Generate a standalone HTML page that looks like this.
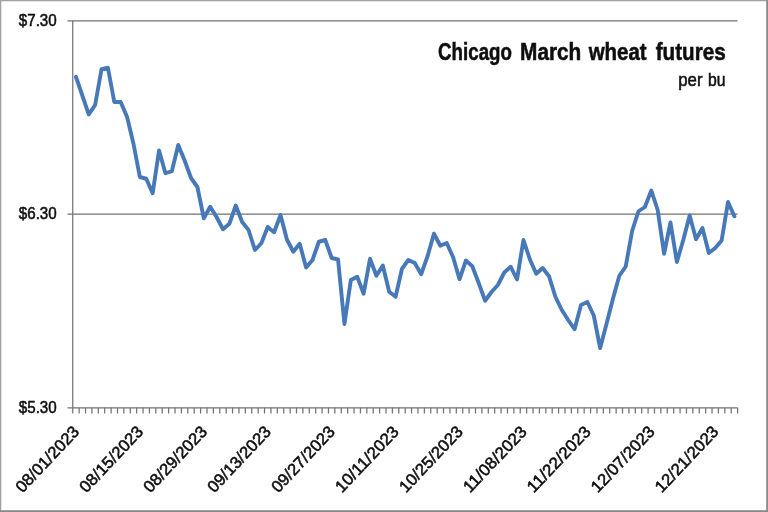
<!DOCTYPE html>
<html><head><meta charset="utf-8"><title>Chicago March wheat futures</title>
<style>
html,body{margin:0;padding:0;background:#fff;}
body{width:768px;height:512px;overflow:hidden;font-family:"Liberation Sans",sans-serif;}
svg{display:block;}
text{font-family:"Liberation Sans",sans-serif;fill:#111;stroke:#111;stroke-width:0.55px;}
</style></head><body>
<svg width="768" height="512" viewBox="0 0 768 512">
<rect x="0" y="0" width="768" height="512" fill="#fff"/>
<!-- outer border -->
<rect x="0" y="0" width="768" height="1.3" fill="#a3a3a3"/>
<rect x="0" y="0" width="1.3" height="512" fill="#a3a3a3"/>
<rect x="766.2" y="0" width="1.8" height="512" fill="#8a8a8a"/>
<rect x="0" y="510.2" width="768" height="1.8" fill="#8a8a8a"/>
<defs><filter id="b" x="-2%" y="-2%" width="104%" height="104%"><feGaussianBlur stdDeviation="0.6"/></filter></defs>
<g filter="url(#b)">
<!-- gridlines -->
<g stroke="#737373" stroke-width="1.25" fill="none">
<path d="M67.5 20.75H737.6M67.5 214.0H737.6M67.5 407.75H737.6"/>
<path d="M72.75 20.75V407.75"/>
<path d="M72.75 407.75V413.4M79.14 407.75V413.4M85.54 407.75V413.4M91.93 407.75V413.4M98.32 407.75V413.4M104.71 407.75V413.4M111.11 407.75V413.4M117.50 407.75V413.4M123.89 407.75V413.4M130.29 407.75V413.4M136.68 407.75V413.4M143.07 407.75V413.4M149.46 407.75V413.4M155.86 407.75V413.4M162.25 407.75V413.4M168.64 407.75V413.4M175.03 407.75V413.4M181.43 407.75V413.4M187.82 407.75V413.4M194.21 407.75V413.4M200.61 407.75V413.4M207.00 407.75V413.4M213.39 407.75V413.4M219.78 407.75V413.4M226.18 407.75V413.4M232.57 407.75V413.4M238.96 407.75V413.4M245.36 407.75V413.4M251.75 407.75V413.4M258.14 407.75V413.4M264.53 407.75V413.4M270.93 407.75V413.4M277.32 407.75V413.4M283.71 407.75V413.4M290.10 407.75V413.4M296.50 407.75V413.4M302.89 407.75V413.4M309.28 407.75V413.4M315.68 407.75V413.4M322.07 407.75V413.4M328.46 407.75V413.4M334.85 407.75V413.4M341.25 407.75V413.4M347.64 407.75V413.4M354.03 407.75V413.4M360.43 407.75V413.4M366.82 407.75V413.4M373.21 407.75V413.4M379.60 407.75V413.4M386.00 407.75V413.4M392.39 407.75V413.4M398.78 407.75V413.4M405.18 407.75V413.4M411.57 407.75V413.4M417.96 407.75V413.4M424.35 407.75V413.4M430.75 407.75V413.4M437.14 407.75V413.4M443.53 407.75V413.4M449.92 407.75V413.4M456.32 407.75V413.4M462.71 407.75V413.4M469.10 407.75V413.4M475.50 407.75V413.4M481.89 407.75V413.4M488.28 407.75V413.4M494.67 407.75V413.4M501.07 407.75V413.4M507.46 407.75V413.4M513.85 407.75V413.4M520.25 407.75V413.4M526.64 407.75V413.4M533.03 407.75V413.4M539.42 407.75V413.4M545.82 407.75V413.4M552.21 407.75V413.4M558.60 407.75V413.4M564.99 407.75V413.4M571.39 407.75V413.4M577.78 407.75V413.4M584.17 407.75V413.4M590.57 407.75V413.4M596.96 407.75V413.4M603.35 407.75V413.4M609.74 407.75V413.4M616.14 407.75V413.4M622.53 407.75V413.4M628.92 407.75V413.4M635.32 407.75V413.4M641.71 407.75V413.4M648.10 407.75V413.4M654.49 407.75V413.4M660.89 407.75V413.4M667.28 407.75V413.4M673.67 407.75V413.4M680.06 407.75V413.4M686.46 407.75V413.4M692.85 407.75V413.4M699.24 407.75V413.4M705.64 407.75V413.4M712.03 407.75V413.4M718.42 407.75V413.4M724.81 407.75V413.4M731.21 407.75V413.4M737.60 407.75V413.4"/>
</g>
<polyline points="75.95,76.80 82.34,95.50 88.73,114.50 95.12,105.00 101.52,69.25 107.91,67.75 114.30,102.00 120.70,102.00 127.09,117.00 133.48,143.75 139.87,177.00 146.27,178.75 152.66,193.25 159.05,150.50 165.45,173.25 171.84,171.25 178.23,145.00 184.62,160.50 191.02,178.00 197.41,187.00 203.80,218.25 210.19,206.75 216.59,217.00 222.98,229.25 229.37,223.75 235.77,205.50 242.16,222.00 248.55,230.00 254.94,250.00 261.34,243.25 267.73,226.90 274.12,232.30 280.52,215.00 286.91,239.50 293.30,251.75 299.69,243.75 306.09,267.50 312.48,260.00 318.87,241.75 325.27,240.00 331.66,258.00 338.05,259.50 344.44,324.00 350.84,280.00 357.23,276.75 363.62,293.75 370.01,258.75 376.41,275.75 382.80,265.50 389.19,291.75 395.59,296.75 401.98,268.75 408.37,260.00 414.76,263.00 421.16,274.25 427.55,256.25 433.94,233.75 440.34,245.75 446.73,243.00 453.12,257.25 459.51,279.25 465.91,260.50 472.30,266.25 478.69,283.00 485.08,300.75 491.48,292.00 497.87,285.00 504.26,272.50 510.66,266.75 517.05,279.50 523.44,240.00 529.83,259.25 536.23,273.75 542.62,268.00 549.01,276.25 555.41,296.75 561.80,310.00 568.19,320.00 574.58,329.25 580.98,305.00 587.37,302.00 593.76,315.50 600.16,348.00 606.55,323.75 612.94,298.75 619.33,275.75 625.73,266.50 632.12,231.00 638.51,211.25 644.90,207.00 651.30,190.50 657.69,210.00 664.08,253.75 670.48,222.50 676.87,262.00 683.26,240.00 689.65,215.50 696.05,239.25 702.44,228.00 708.83,253.00 715.23,248.00 721.62,240.50 728.01,202.00 734.40,216.25" fill="none" stroke="#4679b8" stroke-width="3.9" stroke-linejoin="round" stroke-linecap="round"/>
<g font-size="16.6">
<text x="18.8" y="26.1" textLength="37.9" lengthAdjust="spacingAndGlyphs">$7.30</text>
<text x="18.8" y="219.3" textLength="37.9" lengthAdjust="spacingAndGlyphs">$6.30</text>
<text x="18.8" y="412.9" textLength="37.9" lengthAdjust="spacingAndGlyphs">$5.30</text>
</g>
<g font-size="23" font-weight="bold" style="fill:#000;stroke:#000;stroke-width:0.3px">
<text x="438.12" y="59.9" textLength="73.76" lengthAdjust="spacingAndGlyphs">Chicago</text>
<text x="520.1" y="59.9" textLength="61.2" lengthAdjust="spacingAndGlyphs">March</text>
<text x="588.64" y="59.9" textLength="57.96" lengthAdjust="spacingAndGlyphs">wheat</text>
<text x="655.76" y="59.9" textLength="69.86" lengthAdjust="spacingAndGlyphs">futures</text>
</g>
<g font-size="17.5">
<text x="678.3" y="86.3" textLength="24.2" lengthAdjust="spacingAndGlyphs">per</text>
<text x="708.12" y="86.3" textLength="17.5" lengthAdjust="spacingAndGlyphs">bu</text>
</g>
<text transform="translate(80.25 432.50) rotate(-46.5)" x="-84.0" y="0" textLength="84.0" lengthAdjust="spacingAndGlyphs" font-size="16.5">08/01/2023</text>
<text transform="translate(144.17 432.50) rotate(-46.5)" x="-84.0" y="0" textLength="84.0" lengthAdjust="spacingAndGlyphs" font-size="16.5">08/15/2023</text>
<text transform="translate(208.10 432.50) rotate(-46.5)" x="-84.0" y="0" textLength="84.0" lengthAdjust="spacingAndGlyphs" font-size="16.5">08/29/2023</text>
<text transform="translate(272.03 432.50) rotate(-46.5)" x="-84.0" y="0" textLength="84.0" lengthAdjust="spacingAndGlyphs" font-size="16.5">09/13/2023</text>
<text transform="translate(335.96 432.50) rotate(-46.5)" x="-84.0" y="0" textLength="84.0" lengthAdjust="spacingAndGlyphs" font-size="16.5">09/27/2023</text>
<text transform="translate(399.89 432.50) rotate(-46.5)" x="-84.0" y="0" textLength="84.0" lengthAdjust="spacingAndGlyphs" font-size="16.5">10/11/2023</text>
<text transform="translate(463.81 432.50) rotate(-46.5)" x="-84.0" y="0" textLength="84.0" lengthAdjust="spacingAndGlyphs" font-size="16.5">10/25/2023</text>
<text transform="translate(527.74 432.50) rotate(-46.5)" x="-84.0" y="0" textLength="84.0" lengthAdjust="spacingAndGlyphs" font-size="16.5">11/08/2023</text>
<text transform="translate(591.67 432.50) rotate(-46.5)" x="-84.0" y="0" textLength="84.0" lengthAdjust="spacingAndGlyphs" font-size="16.5">11/22/2023</text>
<text transform="translate(655.60 432.50) rotate(-46.5)" x="-84.0" y="0" textLength="84.0" lengthAdjust="spacingAndGlyphs" font-size="16.5">12/07/2023</text>
<text transform="translate(719.53 432.50) rotate(-46.5)" x="-84.0" y="0" textLength="84.0" lengthAdjust="spacingAndGlyphs" font-size="16.5">12/21/2023</text>
</g>
</svg>
</body></html>
